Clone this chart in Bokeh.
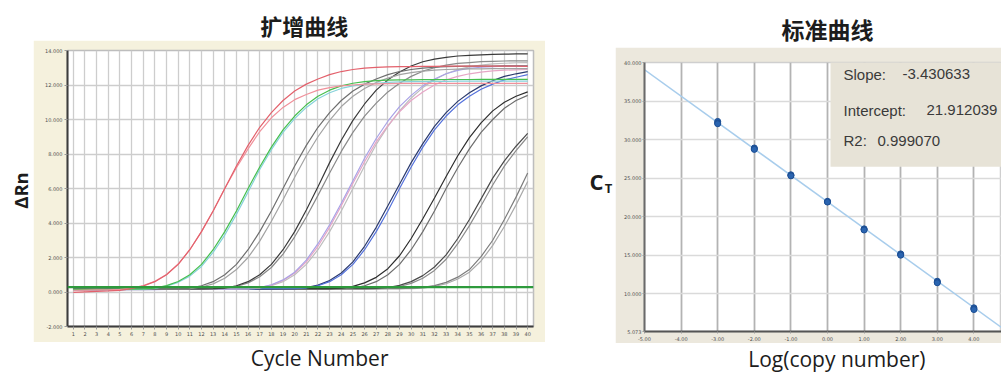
import math
from bokeh.plotting import figure
from bokeh.models import Range1d, FixedTicker, NumeralTickFormatter, Label, Span, Slope, BoxAnnotation
from bokeh.layouts import row, column
from bokeh.embed import file_html
from bokeh.resources import INLINE

# ---------------- data: amplification curves (ΔRn per cycle) ----------------
CYCLES = list(range(1, 41))

A_RED = [-20, 10, 40, 60, 90, 200, 350, 600, 1000, 1600, 2450, 3500, 4700, 6000, 7300, 8500, 9550, 10400, 11100, 11650,
         12050, 12350, 12600, 12780, 12900, 12980, 13020, 13050, 13060, 13070, 13080, 13080, 13090, 13090, 13100, 13100, 13100, 13090, 13090, 13080]
A_PINK = [100, 110, 120, 130, 150, 220, 370, 620, 1020, 1620, 2450, 3500, 4700, 6000, 7200, 8300, 9300, 10100, 10700, 11150,
          11450, 11700, 11850, 11950, 12000, 12050, 12070, 12080, 12090, 12100, 12100, 12100, 12100, 12100, 12100, 12100, 12100, 12100, 12100, 12100]
B_GREEN = [150, 150, 160, 160, 170, 170, 180, 230, 370, 610, 1000, 1600, 2450, 3500, 4700, 6000, 7250, 8400, 9400, 10200,
           10850, 11350, 11700, 11950, 12100, 12200, 12250, 12280, 12300, 12300, 12310, 12310, 12320, 12320, 12320, 12330, 12330, 12330, 12330, 12330]
B_TEAL = [120, 130, 130, 140, 140, 150, 160, 210, 340, 560, 920, 1480, 2300, 3300, 4500, 5800, 7100, 8250, 9250, 10050,
          10700, 11200, 11550, 11800, 11950, 12050, 12100, 12150, 12180, 12200, 12200, 12210, 12210, 12220, 12220, 12220, 12230, 12230, 12230, 12230]
C_GRAY = [150, 150, 150, 160, 160, 160, 170, 170, 170, 180, 230, 360, 600, 1000, 1600, 2450, 3500, 4700, 6000, 7300,
          8500, 9550, 10400, 11100, 11650, 12050, 12350, 12600, 12780, 12900, 12980, 13030, 13060, 13080, 13090, 13100, 13100, 13110, 13110, 13110]
C_GRAY2 = [140, 140, 150, 150, 150, 160, 160, 170, 170, 180, 200, 290, 470, 800, 1300, 2000, 2950, 4100, 5350, 6650,
           7900, 9000, 9950, 10750, 11350, 11800, 12150, 12400, 12600, 12720, 12800, 12860, 12900, 12920, 12930, 12940, 12950, 12950, 12950, 12950]
D_BLACK = [160, 160, 160, 170, 170, 170, 170, 180, 180, 180, 180, 180, 190, 230, 360, 600, 1000, 1600, 2450, 3500,
           4750, 6100, 7500, 8800, 9950, 10900, 11700, 12300, 12750, 13100, 13350, 13500, 13600, 13680, 13720, 13750, 13770, 13790, 13800, 13800]
D_GRAY = [140, 140, 150, 150, 150, 150, 160, 160, 160, 170, 170, 170, 180, 210, 320, 530, 880, 1420, 2200, 3200,
          4350, 5600, 6900, 8150, 9250, 10200, 10950, 11600, 12100, 12500, 12800, 13000, 13150, 13250, 13300, 13350, 13370, 13390, 13400, 13400]
E_LIGHT = [150, 150, 150, 150, 160, 160, 160, 160, 170, 170, 170, 170, 180, 180, 180, 180, 230, 360, 600, 1000,
           1600, 2450, 3500, 4700, 6000, 7300, 8550, 9600, 10500, 11250, 11850, 12300, 12650, 12900, 13050, 13150, 13220, 13260, 13290, 13300]
E_PINK = [130, 130, 140, 140, 140, 150, 150, 150, 160, 160, 160, 170, 170, 170, 180, 190, 250, 400, 670, 1100,
          1750, 2650, 3750, 5000, 6300, 7550, 8700, 9650, 10450, 11100, 11600, 12000, 12300, 12500, 12650, 12750, 12820, 12860, 12880, 12900]
E_LAV = [120, 120, 130, 130, 130, 140, 140, 140, 150, 150, 150, 160, 160, 170, 180, 190, 260, 420, 700, 1150,
         1850, 2800, 3900, 5150, 6450, 7750, 8900, 9900, 10750, 11400, 11950, 12350, 12650, 12850, 12970, 13030, 13070, 13090, 13100, 13100]
F_BLUE = [160, 160, 160, 160, 170, 170, 170, 170, 170, 170, 180, 180, 180, 180, 180, 180, 190, 190, 190, 190,
          230, 360, 600, 1000, 1600, 2450, 3500, 4700, 6000, 7250, 8400, 9400, 10200, 10850, 11350, 11750, 12050, 12300, 12450, 12600]
F_NAVY = [140, 140, 140, 150, 150, 150, 150, 160, 160, 160, 160, 170, 170, 170, 170, 180, 180, 180, 190, 200,
          250, 400, 660, 1100, 1750, 2650, 3750, 5000, 6250, 7500, 8600, 9600, 10400, 11050, 11550, 11950, 12250, 12500, 12650, 12780]
G_BLACK = [170, 170, 170, 170, 170, 180, 180, 180, 180, 180, 180, 180, 190, 190, 190, 190, 190, 190, 190, 200,
           200, 200, 200, 220, 330, 530, 850, 1350, 2100, 3100, 4250, 5450, 6700, 7900, 8950, 9800, 10500, 11000, 11350, 11600]
G_GRAY = [150, 150, 150, 150, 160, 160, 160, 160, 160, 170, 170, 170, 170, 170, 180, 180, 180, 180, 180, 190,
          190, 190, 200, 200, 230, 360, 600, 1000, 1600, 2450, 3500, 4700, 6000, 7200, 8300, 9250, 10000, 10650, 11100, 11400]
H_DARK = [160, 160, 160, 160, 160, 170, 170, 170, 170, 170, 170, 180, 180, 180, 180, 180, 180, 190, 190, 190,
          190, 190, 190, 200, 200, 200, 210, 260, 380, 600, 950, 1450, 2150, 3100, 4200, 5400, 6600, 7600, 8450, 9200]
H_GRAY = [140, 140, 140, 150, 150, 150, 150, 150, 160, 160, 160, 160, 160, 170, 170, 170, 170, 170, 180, 180,
          180, 180, 180, 190, 190, 190, 200, 220, 320, 500, 800, 1250, 1900, 2800, 3850, 5000, 6200, 7300, 8200, 9000]
I_GRAY = [170, 170, 170, 170, 170, 170, 180, 180, 180, 180, 180, 180, 180, 190, 190, 190, 190, 190, 190, 190,
          200, 200, 200, 200, 200, 200, 200, 200, 200, 220, 270, 370, 560, 860, 1300, 2050, 3000, 4200, 5500, 6900]
I_GRAY2 = [130, 130, 130, 140, 140, 140, 140, 150, 150, 150, 150, 150, 160, 160, 160, 160, 160, 170, 170, 170,
           170, 170, 180, 180, 180, 180, 180, 190, 190, 200, 230, 320, 480, 750, 1150, 1800, 2700, 3800, 5050, 6400]

CURVES = [
    (I_GRAY2, "#a9a9a9"), (I_GRAY, "#7d7d7d"), (H_GRAY, "#8c8c8c"), (H_DARK, "#4a4a4a"),
    (G_GRAY, "#6e6e6e"), (G_BLACK, "#2e2e2e"), (F_NAVY, "#2b3a6e"), (F_BLUE, "#5572dc"),
    (E_LIGHT, "#bdbdbd"), (E_PINK, "#e6a6c6"), (E_LAV, "#a9a2e6"),
    (D_GRAY, "#8a8a8a"), (D_BLACK, "#3a3a3a"), (C_GRAY2, "#a3a3a3"), (C_GRAY, "#6f6f6f"),
    (B_TEAL, "#86d2da"), (B_GREEN, "#46bf4e"), (A_PINK, "#f0919b"), (A_RED, "#e3616c"),
]

THRESHOLD = 280
DRN_TICKS = [-2000, 0, 2000, 4000, 6000, 8000, 10000, 12000, 14000]
DRN_TICK_LABELS = ["-2.000", "0.000", "2.000", "4.000", "6.000", "8.000", "10.000", "12.000", "14.000"]

# ---------------- data: standard curve ----------------
LOG_COPY = [-3, -3, -3, -2, -2, -2, -1, -1, -1, 0, 0, 0, 1, 1, 1, 2, 2, 2, 3, 3, 3, 4, 4, 4]
CT = [32.35, 32.15, 32.05, 28.90, 28.80, 28.72, 25.42, 25.35, 25.28, 21.98, 21.92, 21.88,
      18.40, 18.32, 18.25, 15.15, 15.08, 14.98, 11.60, 11.48, 11.40, 8.15, 8.02, 7.92]
SLOPE = -3.430633
INTERCEPT = 21.912039
R2 = 0.999070
LOG_TICKS = [-5, -4, -3, -2, -1, 0, 1, 2, 3, 4]
CT_TICKS = [5.073, 10, 15, 20, 25, 30, 35, 40]

# ---------------- styles ----------------
BEIGE_L = "#f5f1dd"
BEIGE_R = "#ece8dd"
BOX_R = "#e7e3d7"
TXT = "#1c1c1c"
CJK = "Noto Sans CJK SC"
LAT = "Open Sans"


def blank(w, h):
    f = figure(width=w, height=h, x_range=Range1d(0, w), y_range=Range1d(0, h),
               x_axis_type=None, y_axis_type=None, toolbar_location=None,
               output_backend="svg", min_border=0, outline_line_color=None,
               background_fill_color="white", border_fill_color="white")
    return f


def style_axis(ax, line_color, tick_out, standoff):
    ax.axis_line_color = line_color
    ax.axis_line_width = 2
    ax.major_tick_line_color = "#9a9a9a"
    ax.major_tick_out = tick_out
    ax.major_tick_in = 0
    ax.minor_tick_line_color = None
    ax.major_label_text_font = "DejaVu Sans"
    ax.major_label_text_font_size = "5px"
    ax.major_label_text_color = "#505050"
    ax.major_label_standoff = standoff


# ---------------- left block ----------------
ylab1 = blank(33, 372)
ylab1.add_layout(Label(x=20, y=182, text="ΔRn", angle=math.pi / 2, text_align="center",
                       text_baseline="middle", text_font=LAT, text_font_style="bold",
                       text_font_size="18.5px", text_color=TXT))

t1 = blank(512, 40)
t1.add_layout(Label(x=260, y=16, text="扩增曲线", text_align="center", text_baseline="middle",
                    text_font=CJK, text_font_style="bold", text_font_size="22px", text_color=TXT))

p1 = figure(width=512, height=302, x_range=Range1d(0.5, 40.5), y_range=Range1d(-2000, 14000),
            toolbar_location=None, output_backend="svg",
            min_border_left=34, min_border_right=12, min_border_top=10, min_border_bottom=16,
            background_fill_color="white", border_fill_color=BEIGE_L,
            outline_line_color="#bdbdbd", outline_line_width=1.5)
p1.xaxis.ticker = FixedTicker(ticks=CYCLES)
p1.yaxis.ticker = FixedTicker(ticks=DRN_TICKS)
p1.yaxis.major_label_overrides = {k: v for k, v in zip(DRN_TICKS, DRN_TICK_LABELS)}
style_axis(p1.xaxis[0], "#3d3d3d", 3, 2)
style_axis(p1.yaxis[0], "#3d3d3d", 3, 2)
p1.xgrid.grid_line_color = "#cdcdcd"
p1.xgrid.grid_line_width = 1.3
p1.ygrid.grid_line_color = "#cdcdcd"
p1.ygrid.grid_line_width = 1.3
for ys, col in CURVES:
    p1.line(CYCLES, ys, line_color=col, line_width=1.2)
p1.add_layout(Span(location=THRESHOLD, dimension="width", line_color="#2e9a3c", line_width=2.2))

xl1 = blank(512, 30)
xl1.add_layout(Label(x=277, y=15, text="Cycle Number", text_align="center", text_baseline="middle",
                     text_font=LAT, text_font_size="21px", text_color=TXT))

left_col = column(t1, p1, xl1)

# ---------------- gap with C_T label ----------------
gap = blank(70, 372)
gap.add_layout(Label(x=51, y=192, text="C", text_align="center", text_baseline="middle",
                     text_font=LAT, text_font_style="bold", text_font_size="22px", text_color=TXT))
gap.add_layout(Label(x=63, y=185, text="T", text_align="center", text_baseline="middle",
                     text_font=LAT, text_font_style="bold", text_font_size="13px", text_color=TXT))

# ---------------- right block ----------------
t2 = blank(386, 47)
t2.add_layout(Label(x=198, y=19, text="标准曲线", text_align="center", text_baseline="middle",
                    text_font=CJK, text_font_style="bold", text_font_size="23px", text_color=TXT))

X_END = 4.754
p2 = figure(width=386, height=296, x_range=Range1d(-5, X_END), y_range=Range1d(5.073, 40),
            toolbar_location=None, output_backend="svg",
            min_border_left=29, min_border_right=0, min_border_top=15, min_border_bottom=10,
            background_fill_color="white", border_fill_color=BEIGE_R,
            outline_line_color="#cfcfcf", outline_line_width=1.5)
p2.xaxis.ticker = FixedTicker(ticks=LOG_TICKS)
p2.yaxis.ticker = FixedTicker(ticks=CT_TICKS)
p2.xaxis.formatter = NumeralTickFormatter(format="0.00")
p2.yaxis.formatter = NumeralTickFormatter(format="0.000")
style_axis(p2.xaxis[0], "#555555", 2, 3)
style_axis(p2.yaxis[0], "#6a6a6a", 2, 1)
p2.xgrid.grid_line_color = "#b3b3b3"
p2.xgrid.grid_line_width = 1.8
p2.ygrid.grid_line_color = "#dadada"
p2.ygrid.grid_line_width = 1.5
p2.add_layout(Slope(gradient=SLOPE, y_intercept=INTERCEPT, line_color="#a8cdec", line_width=1.5, level="underlay"))
p2.scatter(LOG_COPY, CT, size=6, fill_color="#2a64b0", line_color="#1d4f94", line_width=1)

# pixel helpers for placing the annotations of the right chart (page pixels -> data)
XS = 357 / (X_END + 5)
YS = 271 / (40 - 5.073)


def rx(px):
    return -5 + (px - 644) / XS


def ry(py):
    return 40 - (py - 62) / YS


p2.add_layout(Label(x=rx(800), y=ry(52), text="Standard Curve", text_baseline="middle",
                    text_font="DejaVu Sans", text_font_size="5px", text_color="#666666"))
p2.add_layout(BoxAnnotation(left=rx(830), right=X_END, bottom=ry(167), top=ry(47),
                            fill_color=BOX_R, fill_alpha=1.0, line_alpha=0))
LEG = dict(text_baseline="middle", text_font="Liberation Sans", text_font_size="15px", text_color="#3a3a3a")
p2.add_layout(Label(x=rx(843), y=ry(74), text="Slope:", **LEG))
p2.add_layout(Label(x=rx(902), y=ry(74), text=f"{SLOPE:.6f}", **LEG))
p2.add_layout(Label(x=rx(843), y=ry(110), text="Intercept:", **LEG))
p2.add_layout(Label(x=rx(926), y=ry(110), text=f"{INTERCEPT:.6f}", **LEG))
p2.add_layout(Label(x=rx(843), y=ry(141), text="R2:", **LEG))
p2.add_layout(Label(x=rx(877), y=ry(141), text=f"{R2:.6f}", **LEG))

xl2 = blank(386, 29)
xl2.add_layout(Label(x=208, y=14, text="Log(copy number)", text_align="center", text_baseline="middle",
                     text_font=LAT, text_font_size="21px", text_color=TXT))

right_col = column(t2, p2, xl2)

layout = row(ylab1, left_col, gap, right_col)

open("out.html", "w").write(file_html(layout, INLINE))
